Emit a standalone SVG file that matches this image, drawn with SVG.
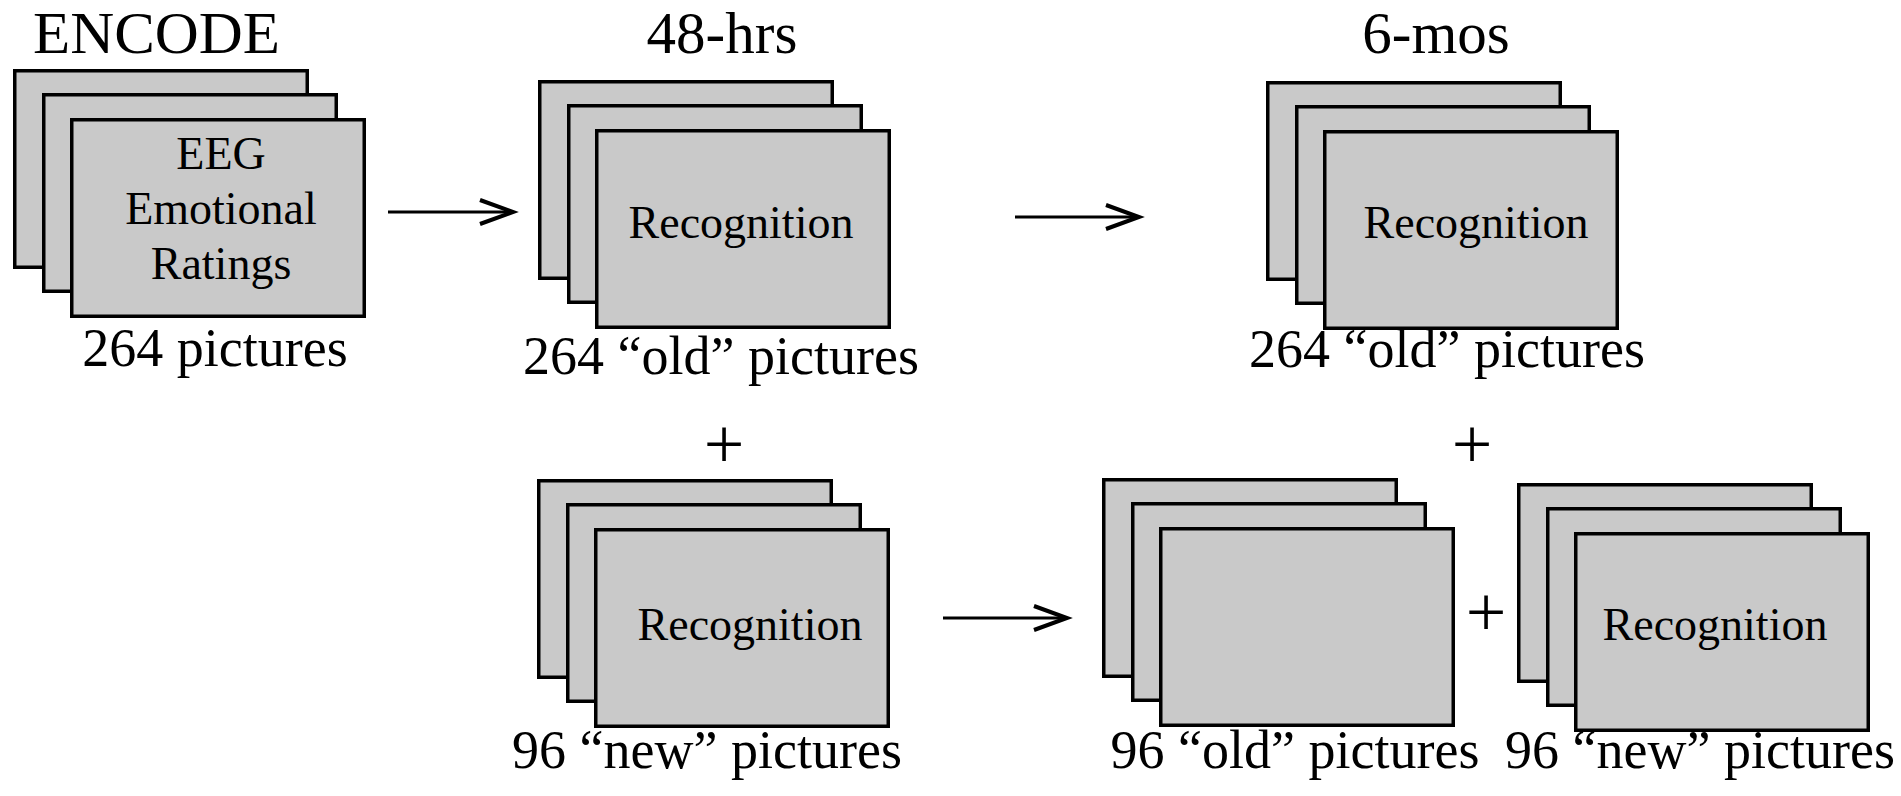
<svg xmlns="http://www.w3.org/2000/svg" xmlns:xlink="http://www.w3.org/1999/xlink" width="1901" height="796" viewBox="0 0 1901 796">
<style>
.card{fill:#c9c9c9;stroke:#000;stroke-width:3.5}
.t{font-family:"Liberation Serif","Times New Roman",serif;fill:#000}
.hdr{font-size:59px}
.lab{font-size:54px;text-anchor:middle}
.inner{font-size:46px;text-anchor:middle}
.plus{font-size:72px;text-anchor:middle}
.conn{stroke:#000;stroke-width:3.2;fill:none}
</style>
<defs>
<g id="stack">
<rect class="card" x="1.75" y="1.75" width="292.5" height="196.5"/>
<rect class="card" x="30.75" y="25.75" width="292.5" height="196.5"/>
<rect class="card" x="58.75" y="50.75" width="292.5" height="196.5"/>
</g>
<marker id="chev" markerUnits="userSpaceOnUse" markerWidth="44" markerHeight="34" refX="37" refY="15" orient="auto">
<path d="M4,3 L37,15 L4,27" fill="none" stroke="#000" stroke-width="4"/>
</marker>
</defs>
<rect width="1901" height="796" fill="#fff"/>

<g id="headers">
<text class="t hdr" x="33" y="53" textLength="247" lengthAdjust="spacingAndGlyphs">ENCODE</text>
<text class="t hdr" x="722" y="53" text-anchor="middle">48-hrs</text>
<text class="t hdr" x="1436" y="53" text-anchor="middle">6-mos</text>
</g>

<g id="encode">
<use xlink:href="#stack" x="13" y="69"/>
<text class="t inner" x="221" y="169">EEG</text>
<text class="t inner" x="221" y="224">Emotional</text>
<text class="t inner" x="221" y="279">Ratings</text>
<text class="t lab" x="215" y="366">264 pictures</text>
</g>

<g id="recog48-old">
<use xlink:href="#stack" x="538" y="80"/>
<text class="t inner" x="741" y="238">Recognition</text>
<text class="t lab" x="721" y="374">264 “old” pictures</text>
</g>

<g id="recog6m-old">
<use xlink:href="#stack" x="1266" y="81"/>
<text class="t inner" x="1476" y="238">Recognition</text>
<text class="t lab" x="1447" y="367">264 “old” pictures</text>
</g>

<g id="recog48-new">
<use xlink:href="#stack" x="537" y="479"/>
<text class="t inner" x="750" y="640">Recognition</text>
<text class="t lab" x="707" y="768">96 “new” pictures</text>
</g>

<g id="recog6m-old96">
<use xlink:href="#stack" x="1102" y="478"/>
<text class="t lab" x="1295" y="768">96 “old” pictures</text>
</g>

<g id="recog6m-new96">
<use xlink:href="#stack" x="1517" y="483"/>
<text class="t inner" x="1715" y="640">Recognition</text>
<text class="t lab" x="1700" y="768">96 “new” pictures</text>
</g>

<g id="plus-signs">
<text class="t plus" x="724" y="468">+</text>
<text class="t plus" x="1472" y="468">+</text>
<text class="t plus" x="1486" y="636">+</text>
</g>

<g id="connectors">
<line class="conn" x1="388" y1="212" x2="513" y2="212" marker-end="url(#chev)"/>
<line class="conn" x1="1015" y1="217" x2="1139" y2="217" marker-end="url(#chev)"/>
<line class="conn" x1="943" y1="618" x2="1067" y2="618" marker-end="url(#chev)"/>
</g>
</svg>
